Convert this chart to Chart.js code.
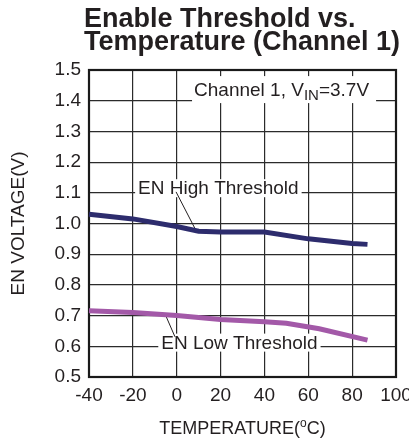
<!DOCTYPE html>
<html>
<head>
<meta charset="utf-8">
<script src="https://cdn.jsdelivr.net/npm/chart.js@4.4.1/dist/chart.umd.min.js"></script>
<style>
  html, body { margin: 0; padding: 0; background: #fff; }
  #wrap { width: 409px; height: 442px; }
</style>
</head>
<body>
<div id="wrap"><canvas id="chart" width="409" height="442"></canvas></div>
<script>
// ---- data ----
const tempTicks = [-40, -20, 0, 20, 40, 60, 80, 100];
const voltTicks = [0.5, 0.6, 0.7, 0.8, 0.9, 1.0, 1.1, 1.2, 1.3, 1.4, 1.5];

const highTemp = [-40, -20, 0, 10, 20, 40, 60, 80, 87];
const highVolt = [1.03, 1.015, 0.99, 0.975, 0.972, 0.972, 0.95, 0.935, 0.932];

const lowTemp = [-40, -20, 0, 20, 40, 50, 65, 87];
const lowVolt = [0.716, 0.71, 0.70, 0.687, 0.68, 0.675, 0.657, 0.62];

const FONT = '"Liberation Sans", Arial, Helvetica, sans-serif';
const INK = '#231f20';

function toPoints(xs, ys) {
  return xs.map((x, i) => ({ x: x, y: ys[i] }));
}

// titles, axis names and in-plot labels
const textPlugin = {
  id: 'textPlugin',
  beforeDatasetsDraw(chart) {
    const { ctx, chartArea: a, scales: { x, y } } = chart;
    ctx.save();

    // label with a white box that hides the grid behind it
    function boxedLabel(text, cx, cy) {
      ctx.font = '19px ' + FONT;
      const w = ctx.measureText(text).width;
      const px = x.getPixelForValue(cx), py = y.getPixelForValue(cy);
      ctx.fillStyle = '#fff';
      ctx.fillRect(px - w / 2 - 3, py - 9, w + 6, 18);
      ctx.fillStyle = INK;
      ctx.textAlign = 'center';
      ctx.textBaseline = 'middle';
      ctx.fillText(text, px, py + 1);
    }
    function leader(x1, y1, x2, y2) {
      ctx.strokeStyle = INK;
      ctx.lineWidth = 1;
      ctx.beginPath();
      ctx.moveTo(x.getPixelForValue(x1), y.getPixelForValue(y1));
      ctx.lineTo(x.getPixelForValue(x2), y.getPixelForValue(y2));
      ctx.stroke();
    }

    boxedLabel('EN High Threshold', 19, 1.115);
    leader(-0.3, 1.103, 8.3, 0.984);
    boxedLabel('EN Low Threshold', 28.6, 0.612);
    leader(-5.3, 0.705, -0.8, 0.631);

    // condition label, top right
    const lx = x.getPixelForValue(7.9), ly = y.getPixelForValue(1.415);
    ctx.font = '19px ' + FONT;
    const p1 = 'Channel 1, V', p3 = '=3.7V';
    const w1 = ctx.measureText(p1).width, w3 = ctx.measureText(p3).width;
    ctx.font = '15px ' + FONT;
    const w2 = ctx.measureText('IN').width;
    ctx.fillStyle = '#fff';
    ctx.fillRect(lx - 2, ly - 20, w1 + w2 + w3 + 9, 27);
    ctx.fillStyle = INK;
    ctx.textAlign = 'left';
    ctx.textBaseline = 'alphabetic';
    ctx.font = '19px ' + FONT;
    ctx.fillText(p1, lx, ly);
    ctx.fillText(p3, lx + w1 + w2, ly);
    ctx.font = '15px ' + FONT;
    ctx.fillText('IN', lx + w1, ly + 4);

    // plot frame
    ctx.strokeStyle = '#1a1a1a';
    ctx.lineWidth = 2.2;
    ctx.strokeRect(a.left, a.top, a.right - a.left, a.bottom - a.top);
    ctx.restore();
  },
  afterDraw(chart) {
    const { ctx, chartArea: a } = chart;
    ctx.save();
    ctx.fillStyle = INK;
    ctx.textBaseline = 'alphabetic';
    ctx.textAlign = 'left';
    ctx.font = 'bold 27px ' + FONT;
    ctx.fillText('Enable Threshold vs.', 84, 27);
    ctx.fillText('Temperature (Channel 1)', 84, 50);

    // x axis name with superscript o
    ctx.font = '18px ' + FONT;
    const t1 = 'TEMPERATURE(', t3 = 'C)';
    const w1 = ctx.measureText(t1).width, w3 = ctx.measureText(t3).width;
    ctx.font = '12px ' + FONT;
    const w2 = ctx.measureText('o').width;
    const sx = (a.left + a.right) / 2 - (w1 + w2 + w3) / 2;
    ctx.font = '18px ' + FONT;
    ctx.fillText(t1, sx, 434);
    ctx.fillText(t3, sx + w1 + w2, 434);
    ctx.font = '12px ' + FONT;
    ctx.fillText('o', sx + w1, 427);

    // y axis name
    ctx.font = '19px ' + FONT;
    ctx.translate(19, (a.top + a.bottom) / 2);
    ctx.rotate(-Math.PI / 2);
    ctx.textAlign = 'center';
    ctx.textBaseline = 'middle';
    ctx.fillText('EN VOLTAGE(V)', 0, 0);
    ctx.restore();
  }
};

const gridStyle = { color: '#2b2b2b', lineWidth: 1.2, drawTicks: false };

new Chart(document.getElementById('chart'), {
  type: 'scatter',
  data: {
    datasets: [
      {
        label: 'EN High Threshold',
        data: toPoints(highTemp, highVolt),
        showLine: true,
        borderColor: '#2d2c6d',
        borderWidth: 5,
        pointRadius: 0,
        tension: 0,
        clip: false
      },
      {
        label: 'EN Low Threshold',
        data: toPoints(lowTemp, lowVolt),
        showLine: true,
        borderColor: '#a359a8',
        borderWidth: 5,
        pointRadius: 0,
        tension: 0,
        clip: false
      }
    ]
  },
  options: {
    responsive: false,
    animation: false,
    devicePixelRatio: 1,
    layout: { padding: { top: 70, right: 13, left: 0, bottom: 0 } },
    plugins: {
      legend: { display: false },
      tooltip: { enabled: false },
      title: { display: false }
    },
    scales: {
      x: {
        type: 'linear',
        min: -40,
        max: 100,
        afterBuildTicks: s => { s.ticks = tempTicks.map(v => ({ value: v })); },
        afterFit: s => { s.height = 65; s.paddingLeft = 0; s.paddingRight = 0; },
        grid: gridStyle,
        border: { display: false },
        ticks: {
          font: { family: FONT, size: 19 },
          color: INK,
          padding: 7,
          maxRotation: 0,
          autoSkip: false
        }
      },
      y: {
        type: 'linear',
        min: 0.5,
        max: 1.5,
        afterBuildTicks: s => { s.ticks = voltTicks.map(v => ({ value: v })); },
        afterFit: s => { s.width = 89; },
        grid: gridStyle,
        border: { display: false },
        ticks: {
          font: { family: FONT, size: 19 },
          color: INK,
          padding: 8,
          autoSkip: false,
          callback: v => v.toFixed(1)
        }
      }
    }
  },
  plugins: [textPlugin]
});
</script>
</body>
</html>
